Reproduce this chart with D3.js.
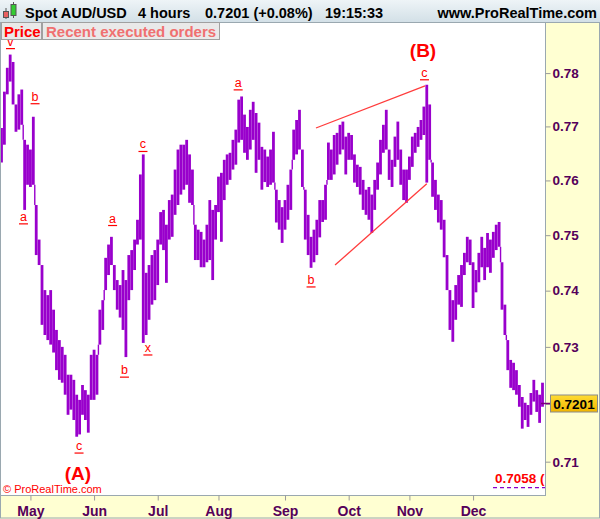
<!DOCTYPE html>
<html><head><meta charset="utf-8">
<script src="https://cdn.jsdelivr.net/npm/d3@7"></script>
<style>body{margin:0;background:#fff}svg{display:block}</style>
</head><body>
<svg id="c" width="600" height="519"></svg>
<script>
// ---------- DATA ----------
const title = "Spot AUD/USD", period = "4 hours", lastText = "0.7201 (+0.08%)", timeText = "19:15:33", site = "www.ProRealTime.com";
const startDate = "2016-04-18";
const high = [
.7697,.7765,.7810,.7835,.7821,.7741,.7760,.7769,.7675,.7666,
.7657,.7718,.7555,.7492,.7446,.7401,.7392,.7401,.7366,.7330,
.7312,.7300,.7286,.7251,.7251,.7242,.7216,.7207,.7233,.7224,
.7216,.7286,.7295,.7286,.7366,.7383,.7459,.7483,.7497,.7446,
.7419,.7410,.7437,.7419,.7464,.7473,.7492,.7528,.7611,.7648,
.7432,.7446,.7464,.7473,.7492,.7542,.7546,.7519,.7564,.7574,
.7620,.7657,.7666,.7666,.7675,.7648,.7620,.7519,.7510,.7506,
.7492,.7519,.7564,.7546,.7555,.7607,.7614,.7638,.7648,.7651,
.7675,.7694,.7750,.7756,.7722,.7699,.7731,.7746,.7725,.7707,
.7662,.7657,.7644,.7657,.7690,.7583,.7564,.7551,.7564,.7592,
.7620,.7694,.7712,.7731,.7657,.7583,.7537,.7497,.7510,.7528,
.7564,.7564,.7592,.7670,.7657,.7684,.7688,.7703,.7709,.7681,
.7688,.7684,.7648,.7629,.7625,.7601,.7583,.7588,.7574,.7601,
.7633,.7675,.7703,.7731,.7657,.7638,.7681,.7709,.7657,.7620,
.7620,.7644,.7681,.7688,.7699,.7712,.7737,.7778,.7741,.7633,
.7601,.7574,.7564,.7528,.7464,.7401,.7383,.7410,.7428,.7446,
.7468,.7497,.7492,.7451,.7437,.7468,.7497,.7477,.7504,.7492,
.7506,.7519,.7524,.7451,.7375,.7312,.7277,.7272,.7259,.7233,
.7212,.7202,.7198,.7219,.7242,.7224,.7216,.7237];
const low = [
.7633,.7666,.7760,.7784,.7741,.7690,.7694,.7703,.7546,.7592,
.7588,.7592,.7464,.7446,.7339,.7321,.7312,.7304,.7290,.7259,
.7242,.7237,.7216,.7181,.7190,.7172,.7143,.7147,.7181,.7172,
.7150,.7207,.7207,.7216,.7304,.7330,.7401,.7428,.7446,.7401,
.7366,.7352,.7330,.7282,.7383,.7401,.7437,.7483,.7492,.7307,
.7321,.7348,.7375,.7383,.7410,.7483,.7473,.7414,.7492,.7497,
.7537,.7555,.7574,.7583,.7592,.7559,.7555,.7455,.7455,.7442,
.7442,.7451,.7455,.7419,.7492,.7542,.7488,.7564,.7592,.7601,
.7620,.7629,.7670,.7675,.7651,.7638,.7657,.7675,.7614,.7638,
.7583,.7597,.7588,.7592,.7596,.7523,.7510,.7486,.7510,.7528,
.7546,.7638,.7648,.7657,.7588,.7492,.7464,.7441,.7451,.7464,
.7496,.7524,.7528,.7601,.7601,.7611,.7629,.7648,.7657,.7611,
.7638,.7638,.7596,.7588,.7574,.7546,.7537,.7528,.7504,.7546,
.7583,.7611,.7651,.7657,.7601,.7588,.7625,.7638,.7592,.7564,
.7559,.7601,.7625,.7651,.7662,.7675,.7684,.7596,.7638,.7570,
.7546,.7523,.7510,.7460,.7401,.7330,.7309,.7348,.7375,.7371,
.7428,.7451,.7446,.7369,.7397,.7415,.7442,.7419,.7442,.7432,
.7459,.7473,.7479,.7366,.7321,.7259,.7228,.7224,.7216,.7195,
.7157,.7172,.7160,.7181,.7204,.7186,.7167,.7195];
const lastPrice = 0.7201;
const refLevel = 0.7058;
const yTicks = [0.71, 0.72, 0.73, 0.74, 0.75, 0.76, 0.77, 0.78];
const yDomain = [0.7043, 0.7897];
// wave labels: [text, bar index, price]
const waveText  = ["v","b","a","c","a","b","c","x","a","b","c"];
const waveIdx   = [3.1, 11.6, 7.6, 26.8, 38.4, 42.5, 48.9, 50.6, 81.8, 107, 146.2];
const wavePrice = [0.7852, 0.7748, 0.7526, 0.7120, 0.7523, 0.7252, 0.7659, 0.7291, 0.7774, 0.7412, 0.7793];
const bigText  = ["(A)", "(B)"];
const bigIdx   = [26.4, 145.7];
const bigPrice = [0.7069, 0.7831];
// wedge trend lines: [[idx, price],[idx, price]]
const upperLine = [[108.7, 0.7697], [146.4, 0.7776]];
const lowerLine = [[115.3, 0.7446], [147.0, 0.7594]];

// ---------- CHART ----------
const W = 600, H = 519;
const plot = {l: 0.5, r: 545.5, t: 22.5, b: 495.5};
const svg = d3.select("#c");
const FONT = "'Liberation Sans', Arial, sans-serif";
const AXC = "#55005a";

// dates: consecutive weekdays
const N = high.length;
const dates = [];
{ let d = d3.timeParse("%Y-%m-%d")(startDate);
  while (dates.length < N) { if (d.getDay() % 6 !== 0) dates.push(d); d = d3.timeDay.offset(d, 1); } }

const x = d3.scaleLinear().domain([0, N - 1]).range([1.5, 542.5]);
const y = d3.scaleLog().domain(yDomain).range([495, 22]);

const defs = svg.append("defs");
const hg = defs.append("linearGradient").attr("id","hg").attr("x1",0).attr("y1",0).attr("x2",0).attr("y2",1);
hg.append("stop").attr("offset","0").attr("stop-color","#eef4f7");
hg.append("stop").attr("offset","1").attr("stop-color","#d3e0e7");
const gg = defs.append("linearGradient").attr("id","gg").attr("x1",0).attr("y1",0).attr("x2",0).attr("y2",1);
gg.append("stop").attr("offset","0").attr("stop-color","#ffdd33");
gg.append("stop").attr("offset","1").attr("stop-color","#f0b400");
defs.append("clipPath").attr("id","pc").append("rect").attr("x",1).attr("y",23).attr("width",544).attr("height",472);

// panels
svg.append("rect").attr("width",W).attr("height",H).attr("fill","#ffffd2");
svg.append("rect").attr("x",0.5).attr("y",0.5).attr("width",W-1).attr("height",H-1.5).attr("fill","none").attr("stroke","#9aa8b0");
svg.append("rect").attr("x",plot.l).attr("y",plot.t).attr("width",plot.r-plot.l).attr("height",plot.b-plot.t)
  .attr("fill","#fff").attr("stroke","#9aa8b0");
svg.append("rect").attr("x",0).attr("y",0).attr("width",W).attr("height",22).attr("fill","url(#hg)");
svg.append("line").attr("x1",0).attr("x2",W).attr("y1",22.5).attr("y2",22.5).attr("stroke","#9aa8b0");

// header icon
const icon = svg.append("g");
icon.append("line").attr("x1",6).attr("x2",6).attr("y1",8).attr("y2",19).attr("stroke","#555");
icon.append("rect").attr("x",3.5).attr("y",11.5).attr("width",5).attr("height",6).attr("fill","#e86060").attr("stroke","#555");
icon.append("line").attr("x1",13.5).attr("x2",13.5).attr("y1",2).attr("y2",18).attr("stroke","#555");
icon.append("rect").attr("x",11).attr("y",4.5).attr("width",5).attr("height",11).attr("fill","#33cc33").attr("stroke","#555");

const ht = svg.append("g").attr("font-family",FONT).attr("font-weight","bold").attr("font-size","14.5px").attr("fill","#000");
ht.append("text").attr("x",25).attr("y",17.5).text(title);
ht.append("text").attr("x",138).attr("y",17.5).text(period);
ht.append("text").attr("x",205).attr("y",17.5).text(lastText);
ht.append("text").attr("x",325).attr("y",17.5).text(timeText);
ht.append("text").attr("x",597).attr("y",17.5).attr("text-anchor","end").text(site);

// price bars
const pg = svg.append("g").attr("clip-path","url(#pc)");
const PUR = "#9900cc";
pg.selectAll("line.bar").data(high).join("line").attr("class","bar")
  .attr("x1",(d,i)=>x(i)).attr("x2",(d,i)=>x(i))
  .attr("y1",(d,i)=>y(high[i])).attr("y2",(d,i)=>y(low[i]))
  .attr("stroke",PUR).attr("stroke-width",2.8);
const conn = [];
for (let i = 1; i < N; i++) {
  const a = Math.max(low[i-1], low[i]), b = Math.min(high[i-1], high[i]);
  if (a > b) conn.push([i, b, a]);
}
pg.selectAll("line.conn").data(conn).join("line").attr("class","conn")
  .attr("x1",d=>x(d[0]-0.5)).attr("x2",d=>x(d[0]-0.5))
  .attr("y1",d=>y(d[1])).attr("y2",d=>y(d[2]))
  .attr("stroke",PUR).attr("stroke-width",1.4);

// wedge lines
const ln = d3.line().x(d=>x(d[0])).y(d=>y(d[1]));
[upperLine, lowerLine].forEach(L => pg.append("path").attr("d", ln(L)).attr("stroke","#ff3c3c").attr("stroke-width",1.3).attr("fill","none"));

// wave labels
const wl = pg.append("g").attr("font-family",FONT).attr("font-size","12.5px").attr("fill","#ff0000").attr("text-anchor","middle");
waveText.forEach((t,k) => {
  const cx = x(waveIdx[k]), cy = y(wavePrice[k]);
  wl.append("text").attr("x",cx).attr("y",cy).text(t);
  wl.append("line").attr("x1",cx-4.5).attr("x2",cx+4.5).attr("y1",cy+3).attr("y2",cy+3).attr("stroke","#ff0000").attr("stroke-width",1.2);
});
bigText.forEach((t,k) => {
  wl.append("text").attr("x",x(bigIdx[k])).attr("y",y(bigPrice[k])).attr("font-size","19px").attr("font-weight","bold").text(t);
});

// reference level
pg.append("line").attr("x1",493).attr("x2",545).attr("y1",y(refLevel)+1.5).attr("y2",y(refLevel)+1.5)
  .attr("stroke","#8a00cc").attr("stroke-width",1.2).attr("stroke-dasharray","4,3");
pg.append("text").attr("x",495).attr("y",y(refLevel)-3).attr("font-family",FONT).attr("font-weight","bold")
  .attr("font-size","13.5px").attr("fill","#ff0000").text(d3.format(".4f")(refLevel) + " (");

svg.append("text").attr("x",3).attr("y",493).attr("font-family",FONT).attr("font-size","11px").attr("fill","#ff0000").text("© ProRealTime.com");

// tabs
const tabs = svg.append("g").attr("font-family",FONT).attr("font-weight","bold").attr("font-size","15px");
tabs.append("rect").attr("x",1.5).attr("y",22.5).attr("width",40).attr("height",17).attr("fill","#e9e9e9").attr("stroke","#a0a0a0");
tabs.append("rect").attr("x",42.5).attr("y",22.5).attr("width",177).attr("height",17).attr("fill","#e9e9e9").attr("stroke","#a0a0a0");
tabs.append("text").attr("x",4).attr("y",36.5).attr("fill","#ff0000").text("Price");
tabs.append("text").attr("x",46).attr("y",36.5).attr("fill","#f07070").text("Recent executed orders");

// right axis (the 0.72 label is hidden behind the last-price box, as in the original)
const ya = svg.append("g").attr("transform",`translate(${plot.r},0)`)
  .call(d3.axisRight(y).tickValues(yTicks).tickFormat(d => Math.abs(d - lastPrice) < 0.002 ? "" : d3.format(".2f")(d)).tickSize(5).tickPadding(2));
ya.select(".domain").remove();
ya.selectAll("line").attr("stroke","#9a9a9a");
ya.selectAll("text").attr("font-family",FONT).attr("font-weight","bold").attr("font-size","13.5px").attr("fill",AXC);

// bottom axis
const monthIdx = [];
for (let i = 1; i < N; i++) if (dates[i].getMonth() !== dates[i-1].getMonth() && dates[i].getFullYear() === dates[0].getFullYear()) monthIdx.push(i);
const fmt = d3.timeFormat("%b");
const xa = svg.append("g").attr("transform",`translate(0,${plot.b})`)
  .call(d3.axisBottom(x).tickValues(monthIdx).tickFormat(i => fmt(dates[i])).tickSize(5).tickPadding(6));
xa.select(".domain").remove();
xa.selectAll("line").attr("stroke","#9a9a9a");
xa.selectAll("text").attr("font-family",FONT).attr("font-weight","bold").attr("font-size","14px").attr("fill",AXC);

// last price marker
const ly = Math.round(y(lastPrice)) + 0.5;
svg.append("line").attr("x1",541).attr("x2",551).attr("y1",ly).attr("y2",ly).attr("stroke","#7a007a").attr("stroke-width",1.5);
svg.append("rect").attr("x",550.5).attr("y",ly-8.5).attr("width",47).attr("height",17).attr("fill","url(#gg)").attr("stroke","#8a8a8a");
svg.append("text").attr("x",574).attr("y",ly+5).attr("text-anchor","middle").attr("font-family",FONT).attr("font-weight","bold")
  .attr("font-size","13.5px").attr("fill","#000").text(d3.format(".4f")(lastPrice));
</script>
</body></html>
